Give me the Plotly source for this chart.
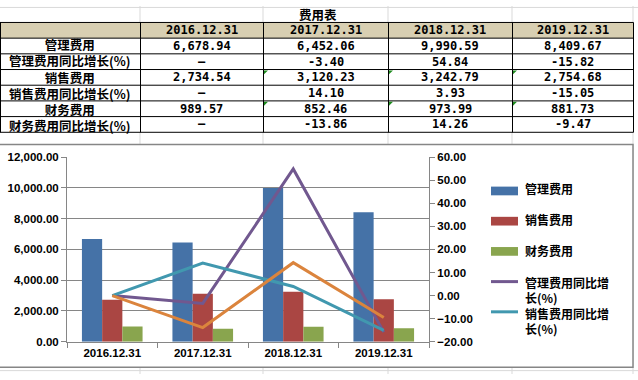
import plotly.graph_objects as go

W, H = 638, 380

# ---- data ----
categories = ["2016.12.31", "2017.12.31", "2018.12.31", "2019.12.31"]
mgmt_cost = [6678.94, 6452.06, 9990.59, 8409.67]
sales_cost = [2734.54, 3120.23, 3242.79, 2754.68]
fin_cost = [989.57, 852.46, 973.99, 881.73]
mgmt_yoy = [0, -3.40, 54.84, -15.82]
sales_yoy = [0, 14.10, 3.93, -15.05]
fin_yoy = [0, -13.86, 14.26, -9.47]

row_labels = ["管理费用", "管理费用同比增长(%)", "销售费用", "销售费用同比增长(%)",
              "财务费用", "财务费用同比增长(%)"]
table_cols = [
    ["6,678.94", "—", "2,734.54", "—", "989.57", "—"],
    ["6,452.06", "-3.40", "3,120.23", "14.10", "852.46", "-13.86"],
    ["9,990.59", "54.84", "3,242.79", "3.93", "973.99", "14.26"],
    ["8,409.67", "-15.82", "2,754.68", "-15.05", "881.73", "-9.47"],
]
table_title = "费用表"
series_names = ["管理费用", "销售费用", "财务费用", "管理费用同比增长(%)", "销售费用同比增长(%)", "财务费用同比增长(%)"]

C_BLUE, C_RED, C_GREEN = "#4572A7", "#AA4643", "#89A54E"
C_PURPLE, C_TEAL, C_ORANGE = "#71588F", "#4198AF", "#DB843D"


def px(x):
    return x / W


def py(y):
    return 1 - y / H


fig = go.Figure()

# ---- bars ----
for name, vals, col in [(series_names[0], mgmt_cost, C_BLUE),
                        (series_names[1], sales_cost, C_RED),
                        (series_names[2], fin_cost, C_GREEN)]:
    fig.add_trace(go.Bar(x=categories, y=vals, name=name, marker=dict(color=col, line=dict(width=0)),
                         xaxis="x", yaxis="y"))

# ---- lines ----
for name, vals, col in [(series_names[3], mgmt_yoy, C_PURPLE),
                        (series_names[4], sales_yoy, C_TEAL),
                        (series_names[5], fin_yoy, C_ORANGE)]:
    fig.add_trace(go.Scatter(x=categories, y=vals, name=name, mode="lines",
                             line=dict(color=col, width=3), xaxis="x", yaxis="y2"))

axfont = dict(family="Liberation Sans, Arial", size=11.5, color="black", weight="bold")
gray = "#868686"
grid = "#D9D9D9"

shapes = []
annotations = []

# spreadsheet gridlines
col_edges = [0, 140, 263, 388, 512, 633]
for gx in col_edges[1:]:
    shapes.append(dict(type="line", xref="paper", yref="paper", x0=px(gx), x1=px(gx), y0=0, y1=1,
                       line=dict(color=grid, width=1), layer="below"))
for gy in [1.5, 376.5]:
    shapes.append(dict(type="line", xref="paper", yref="paper", x0=0, x1=1, y0=py(gy), y1=py(gy),
                       line=dict(color=grid, width=1), layer="below"))

# ---- table (drawn with shapes + text) ----
top, rh = 17, 16.2
row_edges = [top + i * rh for i in range(8)]
shapes.append(dict(type="rect", xref="paper", yref="paper", x0=px(0), x1=px(633),
                   y0=py(row_edges[1]), y1=py(row_edges[0]), fillcolor="#D8CFB2", line=dict(width=0),
                   layer="below"))
shapes.append(dict(type="rect", xref="paper", yref="paper", x0=px(0), x1=px(633),
                   y0=py(row_edges[-1]), y1=py(row_edges[1]), fillcolor="white", line=dict(width=0),
                   layer="below"))
for ry in row_edges:
    shapes.append(dict(type="line", xref="paper", yref="paper", x0=px(0), x1=px(633.5),
                       y0=py(ry), y1=py(ry), line=dict(color="black", width=1)))
for cx in col_edges:
    shapes.append(dict(type="line", xref="paper", yref="paper", x0=px(cx + 0.5), x1=px(cx + 0.5),
                       y0=py(row_edges[0]), y1=py(row_edges[-1]), line=dict(color="black", width=1)))

mono = dict(family="DejaVu Sans Mono, Noto Sans CJK SC, monospace", size=12, color="black", weight="bold")
cjk = dict(family="Noto Sans CJK SC", size=12.5, color="black", weight="bold")
col_centers = [(col_edges[i] + col_edges[i + 1]) / 2 for i in range(5)]
for j, c in enumerate(categories):
    annotations.append(dict(text=c, xref="paper", yref="paper", x=px(col_centers[j + 1]),
                            y=py(row_edges[0] + rh / 2), xanchor="center", yanchor="middle",
                            showarrow=False, font=mono))
# first column: one multi-line text (line pitch matches the row height)
annotations.append(dict(text="<br>".join(row_labels), xref="paper", yref="paper", x=px(col_centers[0]),
                        y=py((row_edges[1] + row_edges[-1]) / 2), xanchor="center", yanchor="middle",
                        align="center", showarrow=False, font=cjk))
for i in range(len(row_labels)):
    for j in range(4):
        annotations.append(dict(text=table_cols[j][i], xref="paper", yref="paper", x=px(col_centers[j + 1]),
                                y=py(row_edges[i + 1] + rh / 2), xanchor="center", yanchor="middle",
                                showarrow=False, font=mono))
annotations.append(dict(text=table_title, xref="paper", yref="paper", x=px(318), y=py(8.3),
                        xanchor="center", yanchor="middle", showarrow=False,
                        font=dict(family="Noto Sans CJK SC", size=12.5, color="black", weight="bold")))

# green error triangles in table
for cx, cy in [(263, row_edges[3]), (263, row_edges[5]), (388, row_edges[3]), (388, row_edges[5]),
               (512, row_edges[3]), (512, row_edges[5])]:
    x0, y0 = px(cx + 1), py(cy + 1)
    x1, y1 = px(cx + 5), py(cy + 5)
    shapes.append(dict(type="path", xref="paper", yref="paper",
                       path="M %f,%f L %f,%f L %f,%f Z" % (x0, y0, x1, y0, x0, y1),
                       fillcolor="#1E8C1E", line=dict(width=0), layer="above"))

# chart box
shapes.append(dict(type="rect", xref="paper", yref="paper", x0=px(-2), x1=px(633), y0=py(373), y1=py(143),
                   line=dict(color=gray, width=1.5), fillcolor="white", layer="below"))

# legend (manual): one multi-line text, blank spacer lines between entries
leg_fs = 12
pitch = 1.3 * leg_fs
leg_top = 191
leg_lines = [series_names[0], "\u00a0", series_names[1], "\u00a0", series_names[2], "\u00a0",
             series_names[3][:7], series_names[3][7:], series_names[4][:7], series_names[4][7:]]
line_y = [leg_top + k * pitch for k in range(len(leg_lines))]
leg_x0, leg_x1 = 491, 518
for k, col in [(0, C_BLUE), (2, C_RED), (4, C_GREEN)]:
    yc = line_y[k]
    shapes.append(dict(type="rect", xref="paper", yref="paper", x0=px(leg_x0), x1=px(leg_x1),
                       y0=py(yc + 4.5), y1=py(yc - 4.5), fillcolor=col, line=dict(width=0)))
for k, col in [(6, C_PURPLE), (8, C_TEAL)]:
    yc = line_y[k]
    shapes.append(dict(type="line", xref="paper", yref="paper", x0=px(leg_x0), x1=px(leg_x1),
                       y0=py(yc), y1=py(yc), line=dict(color=col, width=3)))
annotations.append(dict(text="<br>".join(leg_lines), xref="paper", yref="paper", x=px(523),
                        y=py((line_y[0] + line_y[-1]) / 2), xanchor="left", yanchor="middle",
                        align="left", showarrow=False,
                        font=dict(family="Noto Sans CJK SC", size=leg_fs, color="black", weight="bold")))

fig.update_layout(
    width=W, height=H,
    margin=dict(l=0, r=0, t=0, b=0),
    paper_bgcolor="white",
    plot_bgcolor="rgba(0,0,0,0)",
    showlegend=False,
    barmode="group",
    bargap=0.33,
    bargroupgap=0,
    xaxis=dict(domain=[px(67), px(429)], type="category", showline=True, linecolor=gray, linewidth=1,
               ticks="outside", tickson="boundaries", ticklen=5, tickcolor=gray, showgrid=False,
               tickfont=axfont, anchor="y"),
    yaxis=dict(domain=[py(346.7), py(156)], range=[0, 12000], dtick=2000, tickformat=",.2f",
               showline=True, linecolor=gray, linewidth=1, ticks="outside", ticklen=5, tickcolor=gray,
               gridcolor=gray, gridwidth=1, zeroline=False, tickfont=axfont, anchor="x"),
    yaxis2=dict(domain=[py(346.7), py(156)], range=[-20, 60], dtick=10, tickformat=".2f",
                overlaying="y", side="right", anchor="x", showline=True, linecolor=gray, linewidth=1,
                ticks="outside", ticklen=5, tickcolor=gray, showgrid=False, zeroline=False,
                tickfont=axfont),
    shapes=shapes,
    annotations=annotations,
)

fig.write_html("out.html", config={"displayModeBar": False},
               post_script="document.body.style.margin='0';")
